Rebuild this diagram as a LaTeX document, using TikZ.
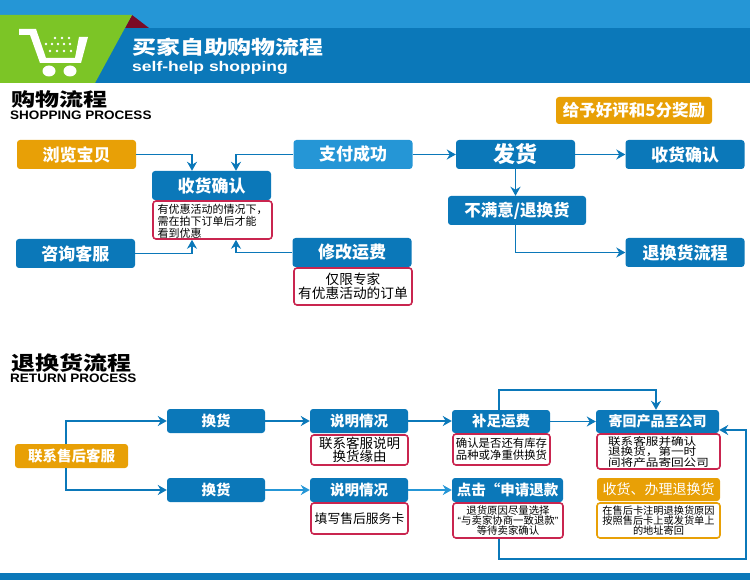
\documentclass[tikz,border=0pt]{standalone}
\usepackage{fontspec}
\setmainfont{Noto Sans CJK SC}
\newfontfamily\latinfont{Liberation Sans}
\usetikzlibrary{arrows.meta}
\definecolor{bandlight}{HTML}{2596D6}
\definecolor{banddark}{HTML}{0B78B9}
\definecolor{cartgreen}{HTML}{7CC526}
\definecolor{foldred}{HTML}{7A0A26}
\definecolor{boxorange}{HTML}{E8A006}
\definecolor{notered}{HTML}{C9254F}
\newcommand{\fs}[2]{\fontsize{#1}{#2}\selectfont}
\newcommand{\fsx}[3]{\fontsize{#1}{#2}\selectfont\addfontfeature{FakeStretch=#3}}
\tikzset{
  bluebox/.style={rectangle,rounded corners=3,fill=banddark,text=white,inner sep=0pt,node font=\bfseries},
  orangebox/.style={bluebox,fill=boxorange},
  lightbox/.style={bluebox,fill=bandlight},
  notebox/.style={rectangle,rounded corners=3,draw=notered,line width=1.6,fill=white,text=black,inner sep=0pt,align=center},
  orangenote/.style={notebox,draw=boxorange},
  bigbox/.style={minimum width=119,minimum height=29},
  smallbox/.style={minimum width=98,minimum height=24},
  flow/.style={draw=banddark,line width=1.8,-{Stealth[length=9,width=10]}},
  flowlight/.style={flow,draw=bandlight},
  title/.style={text=black,inner sep=0pt,anchor=base west,node font=\bfseries},
}
\begin{document}
\begin{tikzpicture}[x=1pt,y=-1pt]
\useasboundingbox (0,0) rectangle (750,580);
% header
\fill[bandlight] (0,0) rectangle (750,28);
\fill[banddark] (0,28) rectangle (750,83);
\fill[banddark] (0,573) rectangle (750,580);
\fill[foldred] (132,15) -- (149,28) -- (125,28) -- cycle;
\fill[cartgreen] (0,15) -- (132,15) -- (95,83) -- (0,83) -- cycle;
% cart
\fill[white] (19,29) -- (36,29) -- (46,58) -- (75,58) -- (79,37) -- (88,37) -- (81,63) -- (40,63) -- (30,35) -- (19,35) -- cycle;
\fill[white] (49,71) ellipse (6.5 and 5.5);
\fill[white] (70,71) ellipse (6.5 and 5.5);
\foreach \x in {55,62,69} \fill[white] (\x,38) circle (1.4);
\foreach \x in {46,52,58,64,70} \fill[white] (\x,44) circle (1.4);
\foreach \x in {50,57,64,71} \fill[white] (\x,51) circle (1.4);
\node[title,text=white,font=\fsx{19}{21}{1.26}] (headcn) at (132,55) {买家自助购物流程};
\node[title,text=white,font=\latinfont\fsx{14}{16}{1.25}] (headen) at (132,72) {self-help shopping};
% titles
\node[title,font=\fsx{18.5}{21}{1.3}] (shopcn) at (11,106.5) {购物流程};
\node[title,font=\latinfont\fsx{12.3}{14}{1.1}] (shopen) at (10,120) {SHOPPING PROCESS};
\node[title,font=\fsx{19.5}{21}{1.23}] (returncn) at (11,370) {退换货流程};
\node[title,font=\latinfont\fsx{12.3}{14}{1.1}] (returnen) at (10,382) {RETURN PROCESS};
% shopping boxes
\node[orangebox,bigbox,font=\fs{17}{20}] (browse) at (76.5,154.5) {浏览宝贝};
\node[lightbox,bigbox,font=\fs{17}{20}] (paid) at (353,154.5) {支付成功};
\node[bluebox,bigbox,font=\fs{17}{20}] (confirm) at (211.5,185.5) {收货确认};
\node[notebox,minimum width=119,minimum height=38,align=left,font=\fs{11}{12}] (confirmnote) at (212.5,220) {\rule{0pt}{1.1em}有优惠活动的情况下，\\需在拍下订单后才能\\看到优惠};
\node[bluebox,bigbox,font=\fs{17}{20}] (consult) at (75.5,253.5) {咨询客服};
\node[bluebox,bigbox,font=\fs{17}{20}] (changefee) at (352,252.5) {修改运费};
\node[notebox,minimum width=118,minimum height=37,font=\fs{13.7}{14}] (feenote) at (353,286.5) {仅限专家\\有优惠活动的订单};
\node[bluebox,bigbox,font=\fs{22}{24}] (ship) at (515.5,154.5) {发货};
\node[bluebox,bigbox,font=\fs{17}{20}] (received) at (685,154.5) {收货确认};
\node[bluebox,minimum width=138,minimum height=29,font=\fs{16.5}{18}] (unhappy) at (517,210.5) {不满意/退换货};
\node[bluebox,bigbox,font=\fs{17}{20}] (returnflow) at (685,252.5) {退换货流程};
\node[orangebox,minimum width=156,minimum height=27,font=\fs{16.5}{18}] (reward) at (634,110.5) {给予好评和5分奖励};
% return boxes
\node[orangebox,minimum width=113,minimum height=24,font=\fs{14.5}{16}] (service) at (71.5,456) {联系售后客服};
\node[bluebox,smallbox,font=\fs{14.5}{16}] (swapa) at (216,421) {换货};
\node[bluebox,smallbox,font=\fs{14.5}{16}] (swapb) at (216,490) {换货};
\node[bluebox,smallbox,font=\fs{14.5}{16}] (explaina) at (359,421) {说明情况};
\node[bluebox,smallbox,font=\fs{14.5}{16}] (explainb) at (359,490) {说明情况};
\node[notebox,minimum width=97,minimum height=30,font=\fs{13.5}{13}] (explainnotea) at (359.5,450) {联系客服说明\\换货缘由};
\node[notebox,minimum width=97,minimum height=31,font=\fs{12.8}{15}] (explainnoteb) at (359.5,518.5) {填写售后服务卡};
\node[bluebox,smallbox,minimum height=23,font=\fs{14.5}{16}] (freight) at (501,421.5) {补足运费};
\node[notebox,minimum width=97,minimum height=31,font=\fs{11.4}{12}] (freightnote) at (501.5,449.5) {确认是否还有库存\\品种或净重供换货};
\node[bluebox,minimum width=123,minimum height=23,font=\fs{14}{16}] (sendback) at (657.5,421.5) {寄回产品至公司};
\node[notebox,minimum width=123,minimum height=35,align=left,font=\fsx{10.5}{10.5}{1.2}] (sendnote) at (658.5,451.5) {联系客服并确认\\退换货，第一时\\间将产品寄回公司};
\node[bluebox,minimum width=111,minimum height=24,font=\fs{14.5}{16}] (refund) at (507.5,490) {点击“申请退款};
\node[notebox,minimum width=110,minimum height=35,font=\fs{10.4}{10}] (refundnote) at (508,520.5) {退货原因尽量选择\\{\latinfont “}与卖家协商一致退款{\latinfont ”}\\等待卖家确认};
\node[orangebox,minimum width=123,minimum height=23,font=\mdseries\fs{14}{16}] (handle) at (658.5,489.5) {收货、办理退换货};
\node[orangenote,minimum width=123,minimum height=35,font=\fs{10.2}{10}] (handlenote) at (658.5,520.5) {在售后卡注明退换货原因\\按照售后卡上或发货单上\\的地址寄回};
% connectors
\coordinate (looptop) at (580,390);
\coordinate (loopright) at (746,559);
\draw[flow] (browse.east) -| ([xshift=-19.5]confirm.north);
\draw[flow] (paid.west) -| ([xshift=24.5]confirm.north);
\draw[flow] (consult.east) -| ([xshift=-20.5]confirmnote.south);
\draw[flow] (changefee.west) -| ([xshift=23.5]confirmnote.south);
\draw[flow] (paid.east) -- (ship.west);
\draw[flow] (ship.east) -- (received.west);
\draw[flow] (ship.south) -- (ship.south |- unhappy.north);
\draw[flow] (ship.south |- unhappy.south) |- (returnflow.west);
\draw[flow] ([xshift=-5.5]service.north) |- (swapa.west);
\draw[flow] ([xshift=-5.5]service.south) |- (swapb.west);
\draw[flow] (swapa.east) -- (explaina.west);
\draw[flowlight] (swapb.east) -- (explainb.west);
\draw[flow] (explaina.east) -- (freight.west |- explaina.east);
\draw[flowlight] (explainb.east) -- (refund.west |- explainb.east);
\draw[flow] (freight.east) -- (sendback.west);
\draw[flow] ([xshift=-2]freight.north) |- (looptop) -| ([xshift=-1.5]sendback.north);
\draw[flow] ([xshift=-9]refundnote.south) |- (loopright) |- ([yshift=-8.5]sendback.east);
\end{tikzpicture}
\end{document}
